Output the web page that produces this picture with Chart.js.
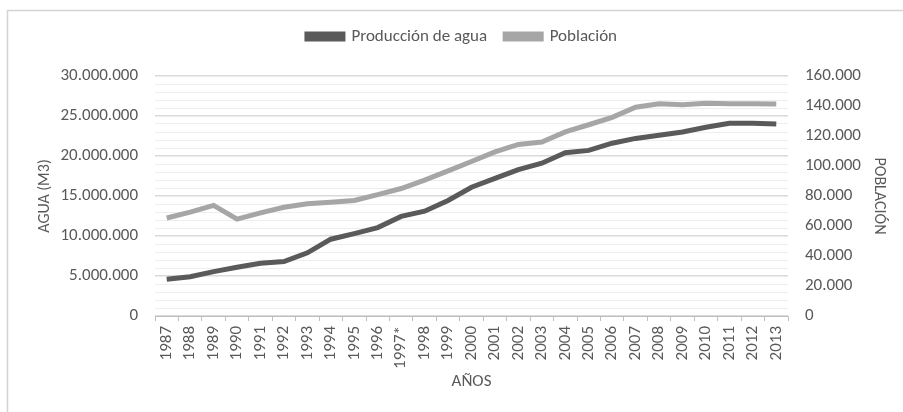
<!DOCTYPE html>
<html>
<head>
<meta charset="utf-8">
<script src="https://cdn.jsdelivr.net/npm/chart.js@4.4.0/dist/chart.umd.min.js"></script>
<style>
  html, body { margin: 0; padding: 0; background: #fff; }
  #wrap { width: 903px; height: 412px; }
</style>
</head>
<body>
<div id="wrap"><canvas id="myChart" width="903" height="412"></canvas></div>
<script>
var years = ['1987','1988','1989','1990','1991','1992','1993','1994','1995','1996','1997*','1998','1999',
  '2000','2001','2002','2003','2004','2005','2006','2007','2008','2009','2010','2011','2012','2013'];
var agua = [4600000, 4900000, 5550000, 6100000, 6600000, 6800000, 7900000, 9600000, 10300000, 11050000,
  12450000, 13100000, 14450000, 16100000, 17200000, 18300000, 19100000, 20400000, 20700000, 21600000,
  22200000, 22600000, 23000000, 23600000, 24100000, 24100000, 24000000];
var poblacion = [65300, 69200, 73700, 64600, 68700, 72500, 74800, 75900, 77000, 80900, 85000, 90600, 96700,
  103000, 109400, 114400, 116000, 122700, 127500, 132400, 139200, 141500, 140800, 141900, 141500, 141500, 141300];

function fmt(v) {
  return String(Math.round(v)).replace(/\B(?=(\d{3})+(?!\d))/g, '.');
}

var FONT = 'Carlito, Calibri, Lato, sans-serif';
var TXT = '#595959';

var framePlugin = {
  id: 'frame',
  beforeDraw: function(chart) {
    var c = chart.ctx;
    c.save();
    c.fillStyle = '#fff';
    c.fillRect(0, 0, chart.width, chart.height);
    c.strokeStyle = '#d4d4d4';
    c.lineWidth = 1.5;
    c.strokeRect(7.5, 10.5, 920, 430);
    c.restore();
  }
};

var legendSpace = {
  id: 'legendSpace',
  beforeInit: function(chart) {
    var fit = chart.legend.fit;
    chart.legend.fit = function() {
      fit.bind(chart.legend)();
      this.height = 66;
    };
  }
};

var ctx = document.getElementById('myChart').getContext('2d');
var chart = new Chart(ctx, {
  type: 'line',
  data: {
    labels: years,
    datasets: [{
      label: 'Producción de agua',
      data: agua,
      yAxisID: 'y',
      borderColor: '#5a5a5a',
      backgroundColor: '#5a5a5a',
      borderWidth: 5,
      pointRadius: 0,
      tension: 0
    }, {
      label: 'Población',
      data: poblacion,
      yAxisID: 'y2',
      borderColor: '#a6a6a6',
      backgroundColor: '#a6a6a6',
      borderWidth: 5,
      pointRadius: 0,
      tension: 0
    }]
  },
  options: {
    responsive: false,
    animation: false,
    layout: { padding: { top: 10, left: 31, right: 10, bottom: 16 } },
    plugins: {
      legend: {
        position: 'top',
        labels: {
          color: TXT,
          font: { family: FONT, size: 17 },
          boxWidth: 36,
          boxHeight: 5,
          padding: 18
        }
      },
      tooltip: { enabled: false }
    },
    scales: {
      x: {
        offset: true,
        grid: { display: true, drawOnChartArea: false, offset: true, tickLength: 5, color: '#bfbfbf' },
        border: { color: '#bfbfbf' },
        ticks: { color: TXT, font: { family: FONT, size: 17 }, minRotation: 90, maxRotation: 90, autoSkip: false, padding: 5 },
        title: { display: true, text: 'AÑOS', color: TXT, font: { family: FONT, size: 17 } },
        afterFit: function(s) { s.height = 80; }
      },
      y: {
        position: 'left',
        min: 0,
        max: 30000000,
        border: { display: false },
        grid: {
          drawTicks: false,
          color: function(c) { return c.tick.value % 5000000 === 0 ? '#d9d9d9' : '#eeeeee'; },
          lineWidth: function(c) { return c.tick.value % 5000000 === 0 ? 1.5 : 1; }
        },
        ticks: {
          stepSize: 1000000,
          maxTicksLimit: 100,
          autoSkip: false,
          padding: 17,
          color: TXT,
          font: { family: FONT, size: 17 },
          callback: function(v) { return v % 5000000 === 0 ? fmt(v) : ''; }
        },
        title: { display: true, text: 'AGUA (M3)', color: TXT, font: { family: FONT, size: 16 } },
        afterFit: function(s) { s.width = 124; }
      },
      y2: {
        position: 'right',
        min: 0,
        max: 160000,
        border: { display: false },
        grid: { display: false, drawTicks: false },
        ticks: { stepSize: 20000, padding: 17, color: TXT, font: { family: FONT, size: 17 }, callback: function(v) { return fmt(v); } },
        title: { display: true, text: 'POBLACIÓN', color: TXT, font: { family: FONT, size: 16 } },
        afterFit: function(s) { s.width = 105; }
      }
    }
  },
  plugins: [framePlugin, legendSpace]
});
</script>
</body>
</html>
